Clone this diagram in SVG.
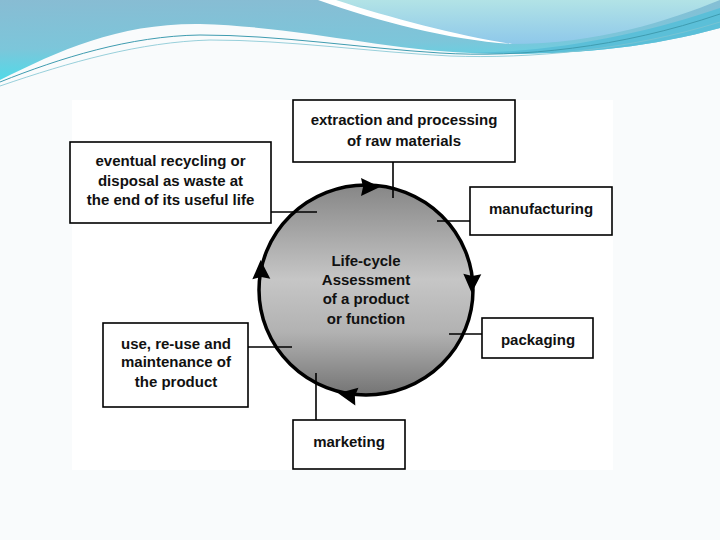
<svg xmlns="http://www.w3.org/2000/svg" width="720" height="540" viewBox="0 0 720 540">
  <style>
    .box { fill: #ffffff; stroke: #000000; stroke-width: 1.6; }
    .lbl { font-family: "Liberation Sans", Arial, sans-serif; font-size: 15px; font-weight: bold; fill: #111111; text-anchor: middle; }
    .conn { stroke: #000000; stroke-width: 1.6; fill: none; }
    .ah { fill: #000000; }
  </style>
  <defs>
    <linearGradient id="hdr" x1="0" y1="0" x2="0.15" y2="1">
      <stop offset="0" stop-color="#88bcd3"/>
      <stop offset="0.6" stop-color="#7cc6da"/>
      <stop offset="1" stop-color="#4fdbe9"/>
    </linearGradient>
    <linearGradient id="aqua" x1="0" y1="0" x2="0" y2="1">
      <stop offset="0" stop-color="#b2e3e6"/>
      <stop offset="1" stop-color="#8ec8ea"/>
    </linearGradient>
    <linearGradient id="ball" x1="0" y1="0" x2="0" y2="1">
      <stop offset="0" stop-color="#868686"/>
      <stop offset="0.45" stop-color="#c6c6c6"/>
      <stop offset="0.7" stop-color="#b2b2b2"/>
      <stop offset="1" stop-color="#747474"/>
    </linearGradient>
    <path id="arrow" d="M10,0 L-9,-9 L-7,0 L-9,9 Z"/>
  </defs>

  <!-- slide background -->
  <rect x="0" y="0" width="720" height="540" fill="#f9fbfc"/>
  <g id="header">
    <path d="M0,0 H720 V28 C 640,50 560,56 470,53 C 380,49 300,27 200,24 C 120,23 60,50 0,80 Z" fill="url(#hdr)"/>
    <path d="M320,0 C 380,20 450,38 510,44 C 600,44 670,20 720,0 Z" fill="url(#aqua)"/>
    <path d="M318,0 L336,0 C 390,18 460,36 512,44 C 450,40 380,22 318,0 Z" fill="#ffffff"/>
    <path d="M470,53 C 560,52 650,32 720,8 V28 C 640,50 560,56 470,53 Z" fill="#5bbfd8"/>
    <path d="M0,82 C 60,58 130,36 200,35 C 280,35 360,48 440,53 C 520,58 620,48 720,14" fill="none" stroke="#3f9cb0" stroke-width="1"/>
    <path d="M0,86 C 70,62 140,42 210,40 C 290,40 370,52 450,56 C 530,59 630,50 720,22" fill="none" stroke="#7fc4d2" stroke-width="0.8"/>
  </g>

  <!-- diagram image area -->
  <rect x="72" y="100" width="541" height="370" fill="#ffffff"/>

  <g id="cycle">
    <ellipse cx="366" cy="290" rx="107" ry="105" fill="url(#ball)" stroke="#000000" stroke-width="3.5"/>
    <text class="lbl" x="366" y="266">Life-cycle</text>
    <text class="lbl" x="366" y="285">Assessment</text>
    <text class="lbl" x="366" y="304">of a product</text>
    <text class="lbl" x="366" y="324">or function</text>
  </g>

  <g id="connectors">
    <line class="conn" x1="393" y1="162" x2="393" y2="198"/>
    <line class="conn" x1="437" y1="221" x2="470" y2="221"/>
    <line class="conn" x1="449" y1="334" x2="482" y2="334"/>
    <line class="conn" x1="316" y1="373" x2="316" y2="420"/>
    <line class="conn" x1="248" y1="347" x2="292" y2="347"/>
    <line class="conn" x1="271" y1="212" x2="317" y2="212"/>
    <use href="#arrow" class="ah" transform="translate(370,187) rotate(0)"/>
    <use href="#arrow" class="ah" transform="translate(472,283) rotate(92)"/>
    <use href="#arrow" class="ah" transform="translate(348,395) rotate(190)"/>
    <use href="#arrow" class="ah" transform="translate(261,270) rotate(-92)"/>
  </g>

  <g id="n-extraction">
    <rect class="box" x="293" y="100" width="222" height="62"/>
    <text class="lbl" x="404" y="125">extraction and processing</text>
    <text class="lbl" x="404" y="146">of raw materials</text>
  </g>
  <g id="n-manufacturing">
    <rect class="box" x="470" y="187" width="142" height="48"/>
    <text class="lbl" x="541" y="214">manufacturing</text>
  </g>
  <g id="n-packaging">
    <rect class="box" x="482" y="318" width="111" height="40"/>
    <text class="lbl" x="538" y="345">packaging</text>
  </g>
  <g id="n-marketing">
    <rect class="box" x="293" y="420" width="112" height="49"/>
    <text class="lbl" x="349" y="447">marketing</text>
  </g>
  <g id="n-use">
    <rect class="box" x="103" y="323" width="145" height="84"/>
    <text class="lbl" x="176" y="349">use, re-use and</text>
    <text class="lbl" x="176" y="367">maintenance of</text>
    <text class="lbl" x="176" y="387">the product</text>
  </g>
  <g id="n-recycling">
    <rect class="box" x="70" y="142" width="201" height="81"/>
    <text class="lbl" x="170.500" y="166">eventual recycling or</text>
    <text class="lbl" x="170.500" y="186">disposal as waste at</text>
    <text class="lbl" x="170.500" y="205">the end of its useful life</text>
  </g>
</svg>
